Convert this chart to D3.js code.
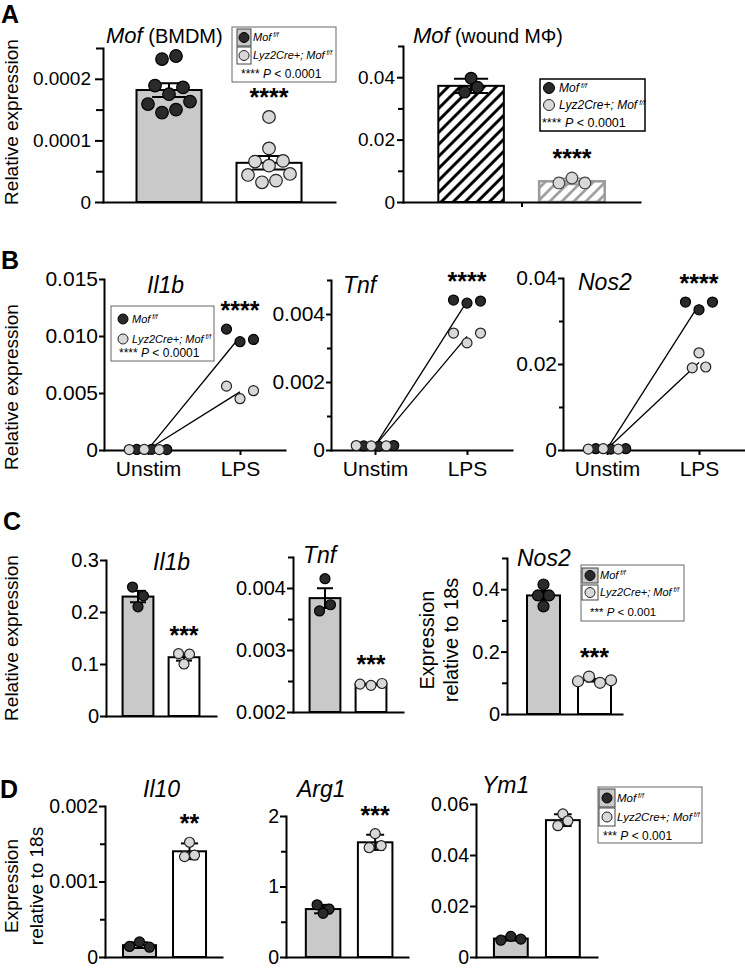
<!DOCTYPE html>
<html><head><meta charset="utf-8">
<script src="https://cdn.jsdelivr.net/npm/d3@7"></script>
<style>body{margin:0;background:#fff}svg{display:block}</style>
</head><body><svg id="fig" width="745" height="968"></svg>
<script>
// ================= DATA =================
const groupNames = ["Mof", "Lyz2Cre+; Mof"];
const genotypeSup = "f/f";
const pairCats = ["Unstim", "LPS"];

// Panel A - Mof (BMDM)
const aBmdmCtrl = [0.000232, 0.000237, 0.000189, 0.000175, 0.000186, 0.000159, 0.000145, 0.000150, 0.000163];
const aBmdmKO = [0.000138, 0.000087, 0.0000656, 0.000059, 0.0000667, 0.0000439, 0.000032, 0.0000347, 0.0000455];
const aBmdmTicks = [0, 0.0001, 0.0002];
const aBmdmTickLabels = ["0", "0.0001", "0.0002"];
const aBmdmMinor = [0.00005, 0.00015, 0.00025];
// Panel A - Mof (wound MΦ)
const aWoundCtrl = [0.0397, 0.0352, 0.0368];
const aWoundKO = [0.0061, 0.0077, 0.0061];
const aWoundTicks = [0, 0.02, 0.04];
const aWoundTickLabels = ["0", "0.02", "0.04"];
const aWoundMinor = [0.01, 0.03, 0.05];

// Panel B - Unstim / LPS
const bIl1bUnstimCtrl = [0.00005, 0.00006, 0.00004];
const bIl1bUnstimKO = [0.00004, 0.00005, 0.00003];
const bIl1bLpsCtrl = [0.0106, 0.0095, 0.0097];
const bIl1bLpsKO = [0.0056, 0.0045, 0.0052];
const bIl1bTicks = [0, 0.005, 0.010, 0.015];
const bIl1bTickLabels = ["0", "0.005", "0.010", "0.015"];
const bTnfUnstimCtrl = [0.00012, 0.00011, 0.00013];
const bTnfUnstimKO = [0.00013, 0.00012, 0.00012];
const bTnfLpsCtrl = [0.00441, 0.00432, 0.00438];
const bTnfLpsKO = [0.00344, 0.00315, 0.00344];
const bTnfTicks = [0, 0.002, 0.004];
const bTnfTickLabels = ["0", "0.002", "0.004"];
const bTnfMinor = [0.001, 0.003, 0.005];
const bNos2UnstimCtrl = [0.0003, 0.0002, 0.0003];
const bNos2UnstimKO = [0.0002, 0.0003, 0.0002];
const bNos2LpsCtrl = [0.0344, 0.0326, 0.0344];
const bNos2LpsKO = [0.0226, 0.0191, 0.0193];
const bNos2Ticks = [0, 0.02, 0.04];
const bNos2TickLabels = ["0", "0.02", "0.04"];
const bNos2Minor = [0.01, 0.03];

// Panel C
const cIl1bCtrl = [0.248, 0.231, 0.210];
const cIl1bKO = [0.120, 0.119, 0.100];
const cIl1bTicks = [0, 0.1, 0.2, 0.3];
const cIl1bTickLabels = ["0", "0.1", "0.2", "0.3"];
const cTnfCtrl = [0.00415, 0.00363, 0.00373];
const cTnfKO = [0.00245, 0.00243, 0.00246];
const cTnfTicks = [0.002, 0.003, 0.004];
const cTnfTickLabels = ["0.002", "0.003", "0.004"];
const cTnfMinor = [0.0025, 0.0035, 0.0045];
const cNos2Ctrl = [0.415, 0.380, 0.380, 0.345];
const cNos2KO = [0.105, 0.120, 0.100, 0.108];
const cNos2Ticks = [0, 0.2, 0.4];
const cNos2TickLabels = ["0", "0.2", "0.4"];
const cNos2Minor = [0.1, 0.3, 0.5];

// Panel D
const dIl10Ctrl = [0.00014, 0.00020, 0.00013];
const dIl10KO = [0.00152, 0.00133, 0.00135];
const dIl10Ticks = [0, 0.001, 0.002];
const dIl10TickLabels = ["0", "0.001", "0.002"];
const dIl10Minor = [0.0005, 0.0015];
const dArg1Ctrl = [0.74, 0.68, 0.62];
const dArg1KO = [1.75, 1.55, 1.58];
const dArg1Ticks = [0, 1, 2];
const dArg1TickLabels = ["0", "1", "2"];
const dArg1Minor = [0.5, 1.5];
const dYm1Ctrl = [0.0066, 0.0081, 0.0070];
const dYm1KO = [0.0561, 0.0515, 0.0534];
const dYm1Ticks = [0, 0.02, 0.04, 0.06];
const dYm1TickLabels = ["0", "0.02", "0.04", "0.06"];

// ================= STYLE =================
const FONT = "'Liberation Sans', Arial, Helvetica, sans-serif";
const GRAY = "#c9c9c9", DARK = "#2a2a2a", LIGHT = "#d8d8d8";
const svg = d3.select("#fig").attr("font-family", FONT);
const defs = svg.append("defs");
function hatch(id, color, sw, sp) {
  const p = defs.append("pattern").attr("id", id).attr("patternUnits", "userSpaceOnUse")
    .attr("width", sp).attr("height", sp).attr("patternTransform", "rotate(45)");
  p.append("rect").attr("width", sp).attr("height", sp).attr("fill", "#fff");
  p.append("line").attr("x1", sp / 2).attr("y1", 0).attr("x2", sp / 2).attr("y2", sp)
    .attr("stroke", color).attr("stroke-width", sw);
}
hatch("hatchBlack", "#000", 3, 8.5);
hatch("hatchGray", "#9a9a9a", 2.6, 8.5);

// ================= HELPERS =================
function rowLayout(values, y, cx, T, S) {
  const idx = values.map((v, i) => i).sort((a, b) => values[b] - values[a]);
  const pos = new Array(values.length);
  let k = 0;
  while (k < idx.length) {
    const startY = y(values[idx[k]]);
    const row = [idx[k]]; k++;
    while (k < idx.length && y(values[idx[k]]) - startY < T) { row.push(idx[k]); k++; }
    row.sort((a, b) => a - b);
    row.forEach((i, j) => { pos[i] = { x: cx + (j - (row.length - 1) / 2) * S, y: y(values[i]) }; });
  }
  return pos;
}
function sd(v) { return d3.deviation(v); }
function sem(v) { return d3.deviation(v) / Math.sqrt(v.length); }

function drawYAxis(g, y, o) {
  const ax = g.append("g").attr("transform", `translate(${o.x0},0)`)
    .call(d3.axisLeft(y).tickValues(o.ticks).tickFormat((d, i) => o.tickLabels[i])
      .tickSizeInner(o.tickLen).tickSizeOuter(0).tickPadding(o.tickPad));
  ax.attr("font-family", FONT).attr("font-size", o.tickFs);
  ax.select(".domain").attr("stroke-width", 2).attr("stroke-linecap", "square");
  ax.selectAll(".tick line").attr("stroke-width", 2);
  ax.selectAll(".tick text").attr("fill", "#000");
  if (o.minor && o.minor.length) {
    const mn = g.append("g").attr("transform", `translate(${o.x0},0)`)
      .call(d3.axisLeft(y).tickValues(o.minor).tickFormat("").tickSizeInner(o.tickLen - 1).tickSizeOuter(0));
    mn.select(".domain").remove();
    mn.selectAll(".tick line").attr("stroke-width", 2);
  }
}
function drawXAxis(g, yPix, x0, x1, tickXs, labels, fs) {
  const lin = d3.scaleLinear().domain([x0, x1]).range([x0, x1]);
  const ax = g.append("g").attr("transform", `translate(0,${yPix})`)
    .call(d3.axisBottom(lin).tickValues(tickXs).tickFormat((d, i) => labels ? labels[i] : "")
      .tickSizeInner(5).tickSizeOuter(0).tickPadding(6));
  ax.attr("font-family", FONT).attr("font-size", fs || 20);
  ax.select(".domain").attr("stroke-width", 2).attr("stroke-linecap", "square");
  ax.selectAll(".tick line").attr("stroke-width", 2);
  ax.selectAll(".tick text").attr("fill", "#000");
}
function title(parts, x, yb) {
  const t = svg.append("text").attr("x", x).attr("y", yb).attr("fill", "#000");
  parts.forEach(p => t.append("tspan").attr("font-size", p.fs).attr("font-style", p.it ? "italic" : "normal").text(p.t));
}
function stars(x, top, txt) {
  svg.append("text").attr("x", x).attr("y", top + 5).attr("text-anchor", "middle")
    .attr("font-size", 25).attr("font-weight", "bold").attr("fill", "#000").text(txt);
}
function dots(g, pos, r, ctrl, strokeKO) {
  g.selectAll(null).data(pos).join("circle")
    .attr("cx", d => d.x).attr("cy", d => d.y).attr("r", r)
    .attr("fill", ctrl ? DARK : LIGHT).attr("stroke", ctrl ? "#000" : (strokeKO || "#222"))
    .attr("stroke-width", 1.2);
}

function barPanel(o) {
  const g = svg.append("g");
  const y = d3.scaleLinear().domain(o.domain).range([o.yBottom, o.yTop]);
  const x = d3.scaleBand().domain([0, 1]).range([o.x0, o.x1])
    .paddingInner(o.pi).paddingOuter(o.po).align(o.align);
  const sets = [o.ctrl, o.ko];
  const bw = x.bandwidth();
  sets.forEach((vals, i) => {
    const m = d3.mean(vals);
    let fill = i ? "#fff" : GRAY, stroke = "#000";
    if (o.hatched) { fill = i ? "url(#hatchGray)" : "url(#hatchBlack)"; stroke = i ? "#9a9a9a" : "#000"; }
    g.append("rect").attr("x", x(i)).attr("y", y(m)).attr("width", bw)
      .attr("height", y(o.domain[0]) - y(m)).attr("fill", fill).attr("stroke", stroke)
      .attr("stroke-width", o.hatched && i ? 2.5 : 2);
  });
  drawYAxis(g, y, o);
  const mid = (x(0) + bw + x(1)) / 2;
  drawXAxis(g, y(o.domain[0]), o.x0, o.x1, o.midTick ? [mid] : [], null);
  sets.forEach((vals, i) => {
    const m = d3.mean(vals), e = o.err === "sd" ? sd(vals) : sem(vals);
    const cx = x(i) + bw / 2, hw = bw * 0.26;
    const col = o.hatched && i ? "#9a9a9a" : "#000";
    const eg = g.append("g").attr("stroke", col).attr("stroke-width", 2);
    eg.append("line").attr("x1", cx).attr("x2", cx).attr("y1", y(m - e)).attr("y2", y(m + e));
    eg.append("line").attr("x1", cx - hw).attr("x2", cx + hw).attr("y1", y(m + e)).attr("y2", y(m + e));
    eg.append("line").attr("x1", cx - hw).attr("x2", cx + hw).attr("y1", y(m - e)).attr("y2", y(m - e));
    const pos = rowLayout(vals, y, cx, o.T, o.S);
    dots(g, pos, o.r, i === 0, o.hatched ? "#444" : null);
    if (i === 1 && o.stars) {
      const top = Math.min(d3.min(pos, p => p.y) - o.r, y(m + e));
      stars(cx, top - 10, o.stars);
    }
  });
  if (o.title) title(o.title, o.titleX, o.titleY);
}

function pairPanel(o) {
  const g = svg.append("g");
  const y = d3.scaleLinear().domain(o.domain).range([o.yBottom, o.yTop]);
  const xs = d3.scalePoint().domain(pairCats).range([o.x0 + 44, o.x0 + 136]);
  drawYAxis(g, y, o);
  drawXAxis(g, y(0), o.x0, o.x0 + 181, pairCats.map(c => xs(c)), pairCats, 21);
  const line = d3.line().x(d => d[0]).y(d => y(d[1]));
  [[o.unC, o.lpsC], [o.unK, o.lpsK]].forEach(pr => {
    g.append("path").datum([[xs("Unstim"), d3.mean(pr[0])], [xs("LPS"), d3.mean(pr[1])]])
      .attr("d", line).attr("fill", "none").attr("stroke", "#000").attr("stroke-width", 1.3);
  });
  const cu = xs("Unstim");
  const un = [];
  o.unK.forEach((v, i) => { un.push({ v, c: false }); un.push({ v: o.unC[i], c: true }); });
  un.forEach((d, j) => { d.x = cu + (j - 2.5) * 7.5; d.y = y(d.v); });
  dots(g, un.filter(d => d.c), o.r, true);
  dots(g, un.filter(d => !d.c), o.r, false);
  const cl = xs("LPS");
  const pc = rowLayout(o.lpsC, y, cl, o.T, o.S);
  const pk = rowLayout(o.lpsK, y, cl, o.T, o.S);
  dots(g, pk, o.r, false);
  dots(g, pc, o.r, true);
  const top = d3.min(pc.concat(pk), p => p.y) - o.r;
  stars(cl, top - 10, "****");
  title(o.title, o.titleX, o.titleY);
}

function legend(o) {
  const g = svg.append("g");
  g.append("rect").attr("x", o.box[0]).attr("y", o.box[1]).attr("width", o.box[2] - o.box[0])
    .attr("height", o.box[3] - o.box[1]).attr("fill", "#fff").attr("stroke", o.boxStroke || "#666")
    .attr("stroke-width", o.boxSw || 1);
  groupNames.forEach((name, i) => {
    const cy = o.rows[i];
    if (o.sq) g.append("rect").attr("x", o.sq[0]).attr("y", cy - o.sq[2] / 2).attr("width", o.sq[1])
      .attr("height", o.sq[2]).attr("fill", i ? "#fff" : GRAY).attr("stroke", "#444").attr("stroke-width", 1);
    g.append("circle").attr("cx", o.cx).attr("cy", cy).attr("r", o.r)
      .attr("fill", i ? LIGHT : DARK).attr("stroke", i ? "#222" : "#000").attr("stroke-width", 1);
    const t = g.append("text").attr("x", o.tx).attr("y", cy + o.fs * 0.36).attr("font-size", o.fs)
      .attr("font-style", "italic").attr("fill", "#000");
    t.append("tspan").text(name);
    t.append("tspan").attr("dy", -o.fs * 0.38).attr("font-size", o.fs * 0.6).text(" " + genotypeSup);
  });
  const t3 = g.append("text").attr("x", o.r3[0]).attr("y", o.r3[1]).attr("font-size", o.fs3).attr("fill", "#000");
  t3.append("tspan").text(o.stars + " ");
  t3.append("tspan").attr("font-style", "italic").text("P");
  t3.append("tspan").text(" < " + o.p);
}

function ylabel(lines, xs, cy, fs) {
  lines.forEach((l, i) => {
    svg.append("text").attr("transform", `translate(${xs[i]},${cy}) rotate(-90)`)
      .attr("text-anchor", "middle").attr("font-size", fs).attr("fill", "#000").text(l);
  });
}
function letter(t, x, y) {
  svg.append("text").attr("x", x).attr("y", y).attr("font-size", 25).attr("font-weight", "bold").attr("fill", "#000").text(t);
}

// ================= PANEL A =================
letter("A", 1, 23);
ylabel(["Relative expression"], [18], 122, 19);
barPanel({ x0: 103, x1: 335, yBottom: 202, yTop: 48, domain: [0, 0.00025],
  ticks: aBmdmTicks, tickLabels: aBmdmTickLabels, minor: aBmdmMinor, tickLen: 8, tickPad: 4, tickFs: 19,
  pi: 0.35, po: 0.335, align: 0.5, ctrl: aBmdmCtrl, ko: aBmdmKO, err: "sem", r: 6.3, T: 12.5, S: 14,
  stars: "****", title: [{ t: "Mof", fs: 22, it: true }, { t: " (BMDM)", fs: 20 }], titleX: 106, titleY: 43 });
legend({ box: [232, 27, 336, 82], sq: [237, 14, 17], rows: [37.5, 55.5], cx: 244, r: 5, tx: 253,
  fs: 11, r3: [241, 78], fs3: 12, stars: "****", p: "0.0001" });

barPanel({ x0: 403, x1: 640, yBottom: 202, yTop: 46, domain: [0, 0.05],
  ticks: aWoundTicks, tickLabels: aWoundTickLabels, minor: aWoundMinor, tickLen: 6, tickPad: 2, tickFs: 19,
  pi: 0.35, po: 0.35, align: 0.5, ctrl: aWoundCtrl, ko: aWoundKO, err: "sd", r: 5.8, T: 8, S: 13,
  hatched: true, midTick: true, stars: "****",
  title: [{ t: "Mof", fs: 22, it: true }, { t: " (wound MΦ)", fs: 19.5 }], titleX: 413, titleY: 43 });
legend({ box: [540, 79, 645, 131], rows: [88, 105], cx: 549, r: 5.5, tx: 559, boxStroke: "#000", boxSw: 1.5,
  fs: 12, r3: [542, 127], fs3: 12.5, stars: "****", p: "0.0001" });

// ================= PANEL B =================
letter("B", 1, 269);
ylabel(["Relative expression"], [18], 387, 19);
pairPanel({ x0: 104, yBottom: 450, yTop: 279, domain: [0, 0.015], ticks: bIl1bTicks, tickLabels: bIl1bTickLabels,
  minor: [], tickLen: 5, tickPad: 1, tickFs: 21, unC: bIl1bUnstimCtrl, unK: bIl1bUnstimKO,
  lpsC: bIl1bLpsCtrl, lpsK: bIl1bLpsKO, r: 5, T: 13.5, S: 13.5,
  title: [{ t: "Il1b", fs: 23, it: true }], titleX: 147, titleY: 293 });
legend({ box: [111, 306, 214, 361], rows: [319, 339], cx: 123, r: 5, tx: 132,
  fs: 11, r3: [119, 357], fs3: 12, stars: "****", p: "0.0001" });
pairPanel({ x0: 331, yBottom: 450, yTop: 280, domain: [0, 0.005], ticks: bTnfTicks, tickLabels: bTnfTickLabels,
  minor: bTnfMinor, tickLen: 5, tickPad: 1, tickFs: 21, unC: bTnfUnstimCtrl, unK: bTnfUnstimKO,
  lpsC: bTnfLpsCtrl, lpsK: bTnfLpsKO, r: 5, T: 13.5, S: 13.5,
  title: [{ t: "Tnf", fs: 23, it: true }], titleX: 343, titleY: 293 });
pairPanel({ x0: 563, yBottom: 450, yTop: 278, domain: [0, 0.04], ticks: bNos2Ticks, tickLabels: bNos2TickLabels,
  minor: bNos2Minor, tickLen: 5, tickPad: 1, tickFs: 21, unC: bNos2UnstimCtrl, unK: bNos2UnstimKO,
  lpsC: bNos2LpsCtrl, lpsK: bNos2LpsKO, r: 5, T: 13.5, S: 13.5,
  title: [{ t: "Nos2", fs: 23, it: true }], titleX: 578, titleY: 290 });

// ================= PANEL C =================
letter("C", 3, 530);
ylabel(["Relative expression"], [18], 638, 19);
barPanel({ x0: 106, x1: 216, yBottom: 716, yTop: 560, domain: [0, 0.3],
  ticks: cIl1bTicks, tickLabels: cIl1bTickLabels, minor: [], tickLen: 6, tickPad: 1, tickFs: 20,
  pi: 0.33, po: 0.36, align: 0.5, ctrl: cIl1bCtrl, ko: cIl1bKO, err: "sem", r: 5, T: 10, S: 11,
  stars: "***", title: [{ t: "Il1b", fs: 23, it: true }], titleX: 153, titleY: 570 });
barPanel({ x0: 293, x1: 403, yBottom: 712, yTop: 557, domain: [0.002, 0.0045],
  ticks: cTnfTicks, tickLabels: cTnfTickLabels, minor: cTnfMinor, tickLen: 6, tickPad: 1, tickFs: 20,
  pi: 0.33, po: 0.36, align: 0.5, ctrl: cTnfCtrl, ko: cTnfKO, err: "sem", r: 5, T: 10, S: 11,
  stars: "***", title: [{ t: "Tnf", fs: 23, it: true }], titleX: 303, titleY: 563 });
ylabel(["Expression", "relative to 18s"], [434, 458], 640, 20);
barPanel({ x0: 507, x1: 622, yBottom: 714, yTop: 558, domain: [0, 0.5],
  ticks: cNos2Ticks, tickLabels: cNos2TickLabels, minor: cNos2Minor, tickLen: 6, tickPad: 1, tickFs: 20,
  pi: 0.353, po: 0.304, align: 0.645, ctrl: cNos2Ctrl, ko: cNos2KO, err: "sem", r: 5.5, T: 10, S: 11,
  stars: "***", title: [{ t: "Nos2", fs: 23, it: true }], titleX: 517, titleY: 566 });
legend({ box: [581, 565, 684, 621], sq: [582, 16, 15], rows: [575.5, 592.5], cx: 590, r: 5, tx: 600,
  fs: 11, r3: [590, 616], fs3: 11.5, stars: "***", p: "0.001" });

// ================= PANEL D =================
letter("D", 0, 798);
ylabel(["Expression", "relative to 18s"], [18, 43], 886, 19);
barPanel({ x0: 105, x1: 222, yBottom: 957, yTop: 806, domain: [0, 0.002],
  ticks: dIl10Ticks, tickLabels: dIl10TickLabels, minor: dIl10Minor, tickLen: 6, tickPad: 1, tickFs: 19.5,
  pi: 0.34, po: 0.34, align: 0.53, ctrl: dIl10Ctrl, ko: dIl10KO, err: "sd", r: 5, T: 6.5, S: 10,
  stars: "**", title: [{ t: "Il10", fs: 23, it: true }], titleX: 143, titleY: 797 });
barPanel({ x0: 286, x1: 408, yBottom: 957, yTop: 816, domain: [0, 2],
  ticks: dArg1Ticks, tickLabels: dArg1TickLabels, minor: dArg1Minor, tickLen: 6, tickPad: 1, tickFs: 19.5,
  pi: 0.337, po: 0.34, align: 0.56, ctrl: dArg1Ctrl, ko: dArg1KO, err: "sd", r: 5, T: 6.5, S: 12,
  stars: "***", title: [{ t: "Arg1", fs: 23, it: true }], titleX: 297, titleY: 797 });
barPanel({ x0: 476, x1: 597, yBottom: 957, yTop: 804, domain: [0, 0.06],
  ticks: dYm1Ticks, tickLabels: dYm1TickLabels, minor: [], tickLen: 6, tickPad: 1, tickFs: 19.5,
  pi: 0.35, po: 0.338, align: 0.51, ctrl: dYm1Ctrl, ko: dYm1KO, err: "sd", r: 5, T: 6.5, S: 10,
  stars: null, title: [{ t: "Ym1", fs: 23, it: true }], titleX: 482, titleY: 793 });
legend({ box: [598, 787, 702, 843], sq: [599, 16, 18], rows: [798, 817], cx: 607, r: 5, tx: 617,
  fs: 11.5, r3: [603, 840], fs3: 12, stars: "***", p: "0.001" });
</script></body></html>
